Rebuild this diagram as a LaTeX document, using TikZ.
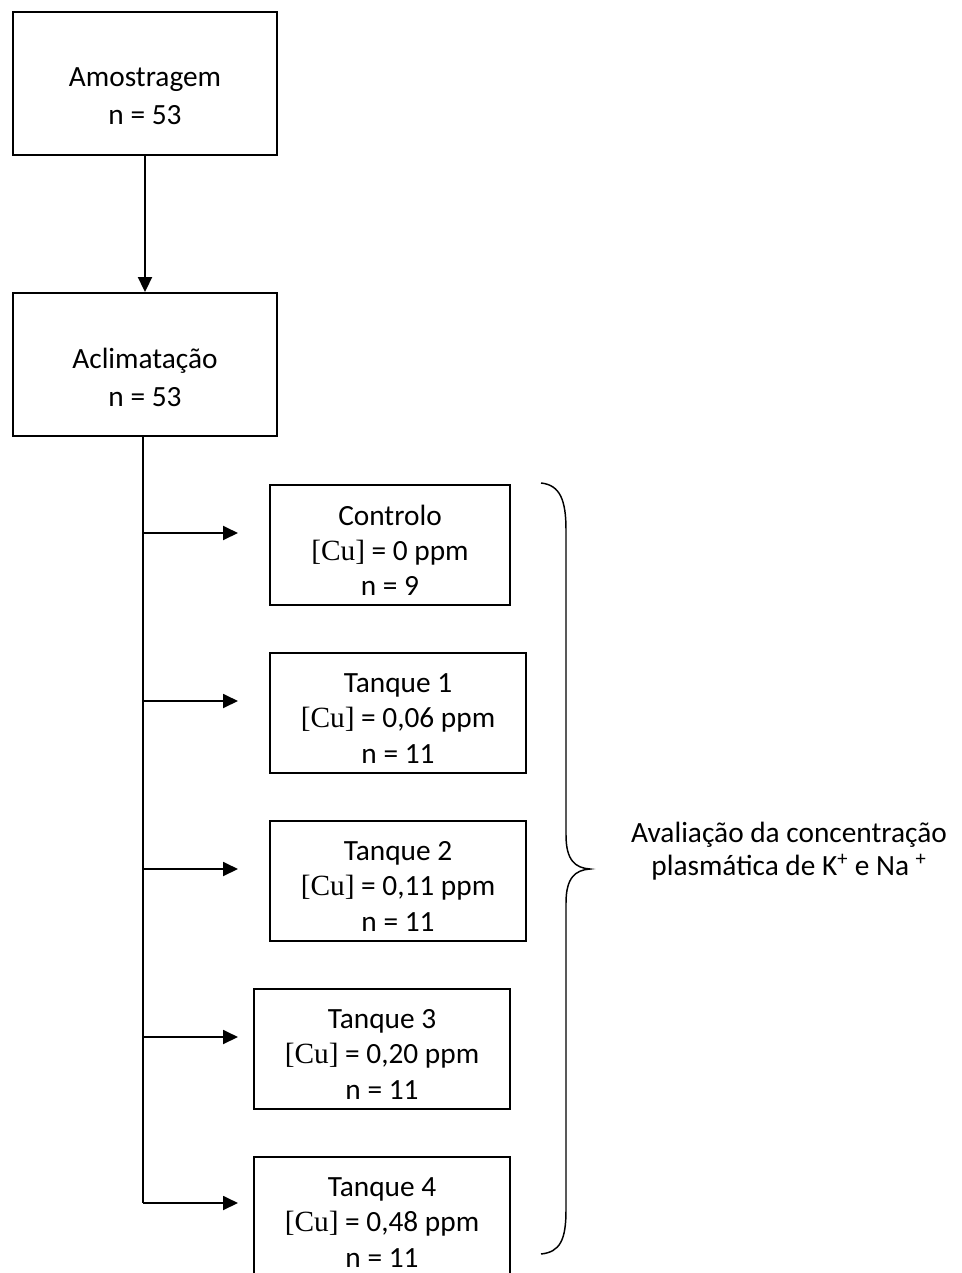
\documentclass[tikz,border=0pt]{standalone}
\usepackage{fontspec}
\setmainfont{Carlito}
\newfontfamily\cuserif{Liberation Serif}
\usetikzlibrary{arrows.meta}
\newcommand{\Cu}{{\cuserif[Cu]}}
\begin{document}
\begin{tikzpicture}[x=0.75pt,y=-0.75pt,
  box/.style={draw,line width=1.4pt,inner sep=0pt},
  bigbox/.style={box,minimum width=264*0.75pt,minimum height=143*0.75pt},
  smallbox/.style={box,minimum height=120*0.75pt},
  txt/.style={align=center,inner sep=0pt,font=\fontsize{22pt}{26.6pt}\selectfont},
  bigtxt/.style={txt,font=\fontsize{22pt}{28.5pt}\selectfont},
  conn/.style={line width=1.4pt},
  arr/.style={conn,-{Triangle[length=11.25pt,width=10.5pt]}},
  bracepath/.style={line width=1.1pt},
  lbl/.style={align=center,font=\fontsize{22pt}{24.75pt}\selectfont}]
\useasboundingbox (0,0) rectangle (962,1273);
\clip (0,0) rectangle (962,1273);
\node[bigbox] (amo) at (145,83.5) {};
\node[bigtxt] (amoT) at ([yshift=-9.5pt]amo.center) {Amostragem\\n = 53};
\node[bigbox] (acl) at (145,364.5) {};
\node[bigtxt] (aclT) at ([yshift=-9.5pt]acl.center) {Aclimatação\\n = 53};
\node[smallbox,minimum width=240*0.75pt] (c0) at (390,545) {};
\node[txt] at ([yshift=-4pt]c0.center) {Controlo\\\Cu{} = 0 ppm\\n = 9};
\node[smallbox,minimum width=256*0.75pt] (c1) at (398,713) {};
\node[txt] at ([yshift=-4pt]c1.center) {Tanque 1\\\Cu{} = 0,06 ppm\\n = 11};
\node[smallbox,minimum width=256*0.75pt] (c2) at (398,881) {};
\node[txt] at ([yshift=-4pt]c2.center) {Tanque 2\\\Cu{} = 0,11 ppm\\n = 11};
\node[smallbox,minimum width=256*0.75pt] (c3) at (382,1049) {};
\node[txt] at ([yshift=-4pt]c3.center) {Tanque 3\\\Cu{} = 0,20 ppm\\n = 11};
\node[smallbox,minimum width=256*0.75pt] (c4) at (382,1217) {};
\node[txt] at ([yshift=-4pt]c4.center) {Tanque 4\\\Cu{} = 0,48 ppm\\n = 11};
\draw[arr] (amo.south) -- (acl.north);
\coordinate (j0) at (143,533);
\coordinate (j1) at (143,701);
\coordinate (j2) at (143,869);
\coordinate (j3) at (143,1037);
\coordinate (j4) at (143,1203);
\coordinate (e0) at (238,533);
\coordinate (e1) at (238,701);
\coordinate (e2) at (238,869);
\coordinate (e3) at (238,1037);
\coordinate (e4) at (238,1203);
\draw[conn] (acl.south -| j4) -- (j4);
\foreach \i in {0,...,4}{\draw[arr] (j\i) -- (e\i);}
\coordinate (bt) at (541,483);
\coordinate (bm) at (590,869);
\coordinate (bb) at (541,1254);
\draw[bracepath] (bt) .. controls (560,485) and (566,500) .. (566,530) -- (566,835)
  .. controls (566,860) and (575,868) .. (bm)
  .. controls (575,870) and (566,878) .. (566,903) -- (566,1210)
  .. controls (566,1240) and (560,1252) .. (bb);
\node[lbl] (aval) at (789,851) {Avaliação da concentração\\plasmática de K\textsuperscript{+} e Na \textsuperscript{+}};
\end{tikzpicture}
\end{document}
